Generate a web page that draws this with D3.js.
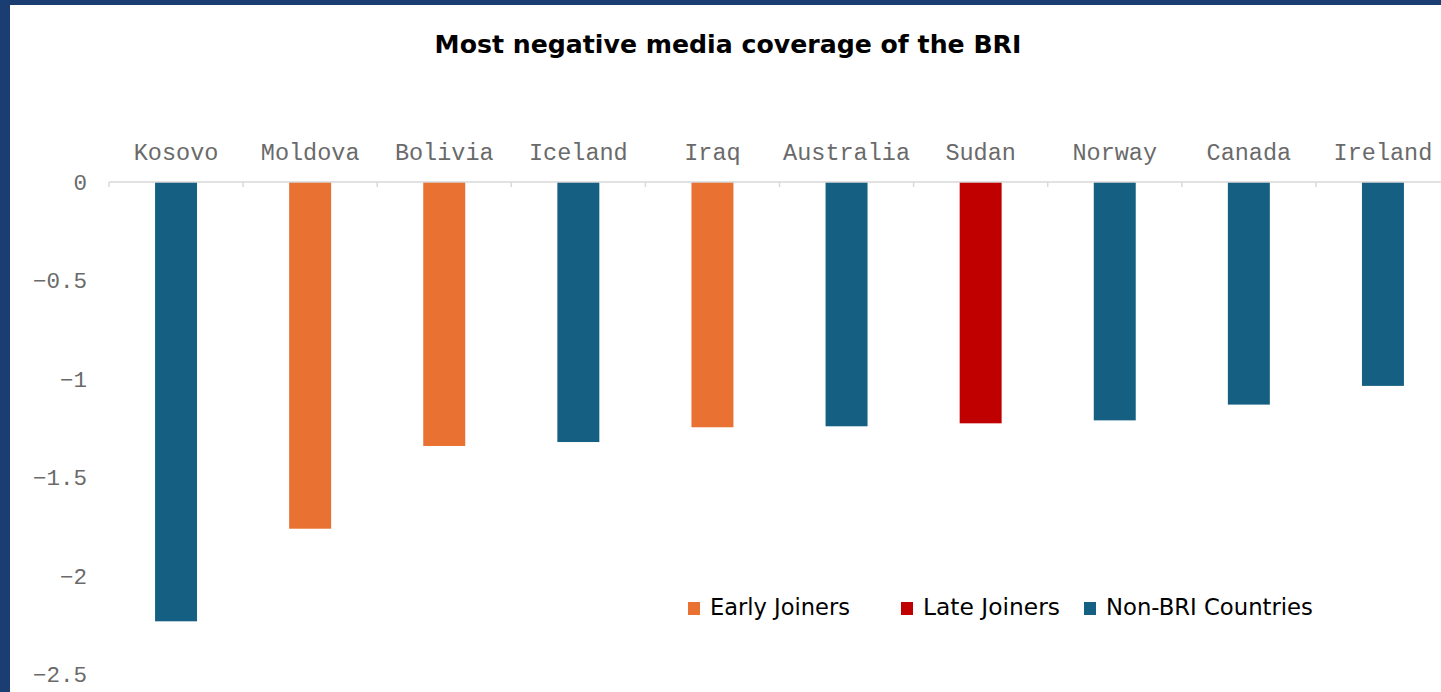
<!DOCTYPE html>
<html>
<head>
<meta charset="utf-8">
<script src="https://cdn.jsdelivr.net/npm/d3@7"></script>
<style>
  html, body { margin: 0; padding: 0; background: #ffffff; overflow: hidden; }
  svg { display: block; }
</style>
</head>
<body>
<div id="chart"></div>
<script>
// ---- data ----
const countries = ["Kosovo", "Moldova", "Bolivia", "Iceland", "Iraq", "Australia", "Sudan", "Norway", "Canada", "Ireland"];
const values = [-2.23, -1.76, -1.34, -1.32, -1.245, -1.24, -1.225, -1.21, -1.13, -1.035];
const groups = ["Non-BRI Countries", "Early Joiners", "Early Joiners", "Non-BRI Countries", "Early Joiners", "Non-BRI Countries", "Late Joiners", "Non-BRI Countries", "Non-BRI Countries", "Non-BRI Countries"];
const legendNames = ["Early Joiners", "Late Joiners", "Non-BRI Countries"];
const legendColors = ["#E97132", "#C00000", "#156082"];
const yTicks = [0, -0.5, -1, -1.5, -2, -2.5];
const titleText = "Most negative media coverage of the BRI";

// ---- layout ----
const W = 1441, H = 692;
const svg = d3.select("#chart").append("svg").attr("width", W).attr("height", H);

// frame
svg.append("rect").attr("x", 0).attr("y", 0).attr("width", W).attr("height", H).attr("fill", "#1B3E72");
svg.append("rect").attr("x", 10).attr("y", 5).attr("width", W).attr("height", H).attr("fill", "#ffffff");

const plotLeft = 109, step = 134.1;
const x = d3.scaleBand()
  .domain(countries)
  .range([plotLeft, plotLeft + step * countries.length])
  .paddingInner(0.687)
  .paddingOuter(0.687 / 2);

const y = d3.scaleLinear().domain([0, -2.5]).range([182, 674.5]);

const color = d3.scaleOrdinal().domain(legendNames).range(legendColors);

// bars
svg.append("g").selectAll("rect")
  .data(countries)
  .join("rect")
  .attr("x", d => x(d))
  .attr("width", x.bandwidth())
  .attr("y", y(0))
  .attr("height", (d, i) => y(values[i]) - y(0))
  .attr("fill", (d, i) => color(groups[i]));

// category axis line at zero
const axisG = svg.append("g");
axisG.append("line")
  .attr("x1", plotLeft).attr("x2", W)
  .attr("y1", y(0)).attr("y2", y(0))
  .attr("stroke", "#d9d9d9").attr("stroke-width", 1.5);
axisG.selectAll("line.tick")
  .data(countries)
  .join("line")
  .attr("class", "tick")
  .attr("x1", d => x(d) + x.bandwidth() / 2 - x.step() / 2)
  .attr("x2", d => x(d) + x.bandwidth() / 2 - x.step() / 2)
  .attr("y1", y(0)).attr("y2", y(0) + 5)
  .attr("stroke", "#d9d9d9").attr("stroke-width", 1.5);

// category labels above
svg.append("g").selectAll("text")
  .data(countries)
  .join("text")
  .attr("x", d => x(d) + x.bandwidth() / 2)
  .attr("y", 160)
  .attr("text-anchor", "middle")
  .attr("font-family", "'Liberation Mono', 'Courier New', monospace")
  .attr("font-size", 23.5)
  .attr("fill", "#6a6a6a")
  .text(d => d);

// y axis labels
const yAxis = d3.axisLeft(y).tickValues(yTicks).tickSize(0).tickPadding(0)
  .tickFormat(d3.format(""));
const yG = svg.append("g").attr("transform", "translate(87,0)").call(yAxis);
yG.select(".domain").remove();
yG.selectAll("text")
  .attr("font-family", "'Liberation Mono', 'Courier New', monospace")
  .attr("font-size", 22.5)
  .attr("fill", "#6a6a6a")
  .attr("dy", "0.32em");

// title
const title = svg.append("text")
  .attr("x", 728).attr("y", 53)
  .attr("text-anchor", "middle")
  .attr("font-family", "'DejaVu Sans', sans-serif")
  .attr("font-weight", "bold")
  .attr("font-size", 25)
  .attr("fill", "#000")
  .text(titleText);
{
  const w = title.node().getComputedTextLength();
  title.attr("font-size", 25 * 587 / w);
}

// legend
const legendX = [688, 901, 1084];
const legendTextW = [140, 137, 207];
const lg = svg.append("g").selectAll("g")
  .data(legendNames)
  .join("g")
  .attr("transform", (d, i) => `translate(${legendX[i]},602)`);
lg.append("rect").attr("width", 12).attr("height", 13).attr("fill", d => color(d));
lg.append("text")
  .attr("x", 22).attr("y", 13)
  .attr("font-family", "'DejaVu Sans', sans-serif")
  .attr("font-size", 20)
  .attr("fill", "#000")
  .text(d => d)
  .each(function (d, i) {
    const w = this.getComputedTextLength();
    d3.select(this).attr("font-size", 20 * legendTextW[i] / w);
  });
</script>
</body>
</html>
